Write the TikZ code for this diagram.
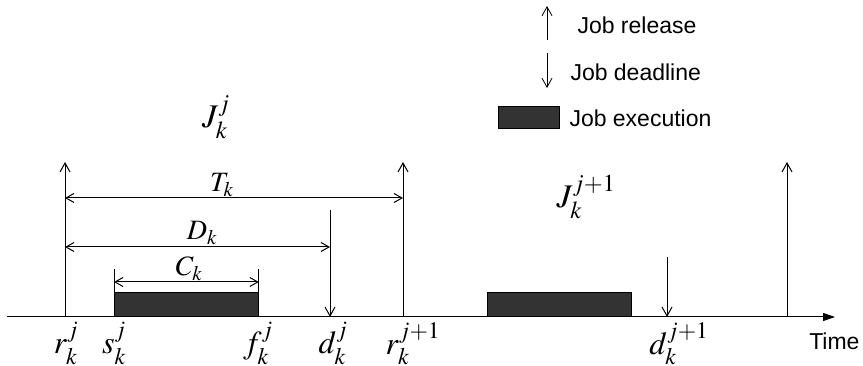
\documentclass[tikz,border=0pt]{standalone}
\usepackage{mathptmx}
\usepackage[no-math]{fontspec}
\setmainfont{Liberation Sans}
\usetikzlibrary{arrows.meta}

\begin{document}
\begin{tikzpicture}[
    x=1pt, y=-1pt,
    line width=1pt,
    release/.style={-{Straight Barb[length=9pt,width=10pt]}},
    deadline/.style={-{Straight Barb[length=9pt,width=10pt]}},
    span/.style={{Straight Barb[length=8pt,width=9pt]}-{Straight Barb[length=8pt,width=9pt]}},
    execbox/.style={
        draw,
        fill=black!80,
        line width=0.8pt,
        minimum width=144pt,
        minimum height=24pt,
        inner sep=0pt,
        anchor=south west
    },
    instant/.style={font=\fontsize{32}{32}\selectfont, anchor=north, inner sep=0pt},
    job/.style={font=\fontsize{33}{33}\selectfont, inner sep=0pt},
    dimlabel/.style={font=\fontsize{28}{28}\selectfont, anchor=south, inner sep=0pt},
    legend/.style={font=\fontsize{23}{23}\selectfont, anchor=west, inner sep=0pt}
]
\useasboundingbox (0,0) rectangle (863,366);

% Time axis
\coordinate (start) at (7,317);
\coordinate (end) at (835,317);
\draw[-{Triangle[length=12pt,width=8pt]}] (start) -- (end);
\node[legend, anchor=north east] (time) at (860,332) {Time};

% Instants
\coordinate (rj) at (65,317);
\coordinate (sj) at (114,317);
\coordinate (fj) at (258,317);
\coordinate (dj) at (330,317);
\coordinate (rj1) at (403,317);
\coordinate (sj1) at (487,317);
\coordinate (dj1) at (667,317);
\coordinate (rj2) at (787,317);

\coordinate (rjtop) at (65,162);
\coordinate (rj1top) at (403,162);
\coordinate (rj2top) at (787,162);
\coordinate (djtop) at (330,210);
\coordinate (dj1top) at (667,257);

% Nodes
\node[execbox] (exec1) at (sj) {};
\node[execbox] (exec2) at (sj1) {};

\node[instant] (rjlab) at (66,322) {$r_k^j$};
\node[instant] (sjlab) at (114,322) {$s_k^j$};
\node[instant] (fjlab) at (258,322) {$f_k^j$};
\node[instant] (djlab) at (333,322) {$d_k^j$};
\node[instant] (rj1lab) at (413,322) {$r_k^{j+1}$};
\node[instant] (dj1lab) at (679,322) {$d_k^{j+1}$};

\node[job] (jobj) at (216,117) {$J_k^j$};
\node[job] (jobj1) at (586,197) {$J_k^{j+1}$};

\node[dimlabel] (Tk) at (222,197) {$T_k$};
\node[dimlabel] (Dk) at (202,245) {$D_k$};
\node[dimlabel] (Ck) at (189,281) {$C_k$};

% Arrows
\draw[release] (rj) -- (rjtop);
\draw[release] (rj1) -- (rj1top);
\draw[release] (rj2) -- (rj2top);
\draw[deadline] (djtop) -- (dj);
\draw[deadline] (dj1top) -- (dj1);

\draw[span] (rj |- 0,198) -- (rj1 |- 0,198);
\draw[span] (rj |- 0,247) -- (dj |- 0,247);
\draw (exec1.north west) -- (exec1.north west |- 0,269);
\draw (exec1.north east) -- (exec1.north east |- 0,269);
\draw[span] (exec1.north west |- 0,282) -- (exec1.north east |- 0,282);

% Legend
\coordinate (relbot) at (547,40);
\coordinate (reltop) at (547,6);
\coordinate (deltop) at (547,53);
\coordinate (delbot) at (547,88);

\draw[release, line width=0.8pt] (relbot) -- (reltop);
\node[legend] (reltext) at (577,25) {Job release};
\draw[deadline, line width=0.8pt] (deltop) -- (delbot);
\node[legend] (deltext) at (570,72) {Job deadline};
\node[execbox, minimum width=61pt, minimum height=22pt] (legexec) at (498,129) {};
\node[legend] (exectext) at (569,118) {Job execution};

\end{tikzpicture}
\end{document}
